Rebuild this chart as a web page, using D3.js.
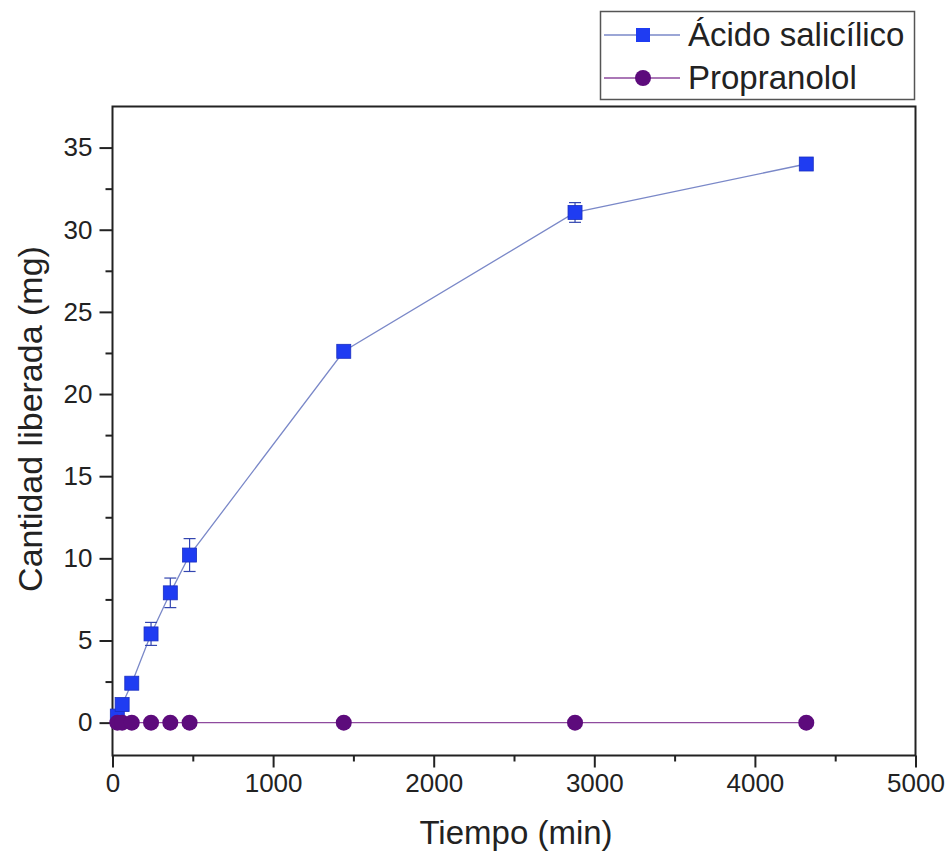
<!DOCTYPE html>
<html>
<head>
<meta charset="utf-8">
<script src="https://cdn.jsdelivr.net/npm/d3@7"></script>
<style>
  html, body { margin: 0; padding: 0; background: #fff; }
  svg { display: block; }
  text { font-family: "Liberation Sans", Arial, sans-serif; fill: #222; }
</style>
</head>
<body>
<script>
// Release data (time in minutes, amount released in mg)
const times = [30, 60, 120, 240, 360, 480, 1440, 2880, 4320];
const acidoValues = [0.4, 1.1, 2.4, 5.4, 7.9, 10.2, 22.6, 31.05, 34.0];
const acidoErrors = [0.15, 0.2, 0.2, 0.7, 0.9, 1.0, 0.35, 0.6, 0.2];
const propranololValues = [0, 0, 0, 0, 0, 0, 0, 0, 0];
const xTicks = [0, 1000, 2000, 3000, 4000, 5000];
const yTicks = [0, 5, 10, 15, 20, 25, 30, 35];
const seriesNames = ["Ácido salicílico", "Propranolol"];

const W = 952, H = 858;
const plot = { left: 112.5, right: 915.5, top: 106.5, bottom: 755.5 };

const svg = d3.select("body").append("svg").attr("width", W).attr("height", H);

const x = d3.scaleLinear().domain([0, 5000]).range([plot.left, plot.right]);
const y = d3.scaleLinear().domain([-2, 37.5]).range([plot.bottom, plot.top]);

const blue = "#1f3cf2", blueLine = "#7a88c8";
const purple = "#5d0b7c", purpleLine = "#8e4a9e";
const axisColor = "#222";

// Frame
svg.append("rect")
  .attr("x", plot.left).attr("y", plot.top)
  .attr("width", plot.right - plot.left).attr("height", plot.bottom - plot.top)
  .attr("fill", "none").attr("stroke", axisColor).attr("stroke-width", 2);

// X axis: major and minor ticks
const xMinor = svg.append("g").attr("transform", `translate(0,${plot.bottom})`)
  .call(d3.axisBottom(x).tickValues(d3.range(500, 5000, 1000)).tickSize(6).tickFormat(""));
xMinor.select(".domain").remove();
const xMajor = svg.append("g").attr("transform", `translate(0,${plot.bottom})`)
  .call(d3.axisBottom(x).tickValues(xTicks).tickSize(12).tickPadding(6).tickFormat(d3.format("d")));
xMajor.select(".domain").remove();
xMajor.selectAll("text").attr("font-size", 26).attr("fill", "#222")
  .attr("font-family", "Liberation Sans, Arial, sans-serif");

// Y axis: major and minor ticks
const yMinor = svg.append("g").attr("transform", `translate(${plot.left},0)`)
  .call(d3.axisLeft(y).tickValues(d3.range(2.5, 37.5, 5)).tickSize(7).tickFormat(""));
yMinor.select(".domain").remove();
const yMajor = svg.append("g").attr("transform", `translate(${plot.left},0)`)
  .call(d3.axisLeft(y).tickValues(yTicks).tickSize(13).tickPadding(7));
yMajor.select(".domain").remove();
yMajor.selectAll("text").attr("font-size", 26).attr("fill", "#222")
  .attr("font-family", "Liberation Sans, Arial, sans-serif");
svg.selectAll("g .tick line").attr("stroke", axisColor).attr("stroke-width", 2);

// Axis titles
svg.append("text")
  .attr("x", (plot.left + plot.right) / 2 + 2).attr("y", 844)
  .attr("text-anchor", "middle").attr("font-size", 33)
  .text("Tiempo (min)");
svg.append("text")
  .attr("transform", `translate(42,${(plot.top + plot.bottom) / 2 - 12}) rotate(-90)`)
  .attr("text-anchor", "middle").attr("font-size", 34)
  .text("Cantidad liberada (mg)");

// Ácido salicílico series
const acido = times.map((t, i) => ({ t, v: acidoValues[i], e: acidoErrors[i] }));
const propr = times.map((t, i) => ({ t, v: propranololValues[i] }));

const line = d3.line().x(d => x(d.t)).y(d => y(d.v));

svg.append("path").datum(acido)
  .attr("d", line).attr("fill", "none")
  .attr("stroke", blueLine).attr("stroke-width", 1.3);

const eb = svg.append("g").attr("stroke", "#3346b0").attr("stroke-width", 1.2);
acido.forEach(d => {
  eb.append("line").attr("x1", x(d.t)).attr("x2", x(d.t))
    .attr("y1", y(d.v - d.e)).attr("y2", y(d.v + d.e));
  [d.v - d.e, d.v + d.e].forEach(v => {
    eb.append("line").attr("x1", x(d.t) - 6).attr("x2", x(d.t) + 6)
      .attr("y1", y(v)).attr("y2", y(v));
  });
});

const sq = 14;
svg.append("g").selectAll("rect").data(acido).join("rect")
  .attr("x", d => x(d.t) - sq / 2).attr("y", d => y(d.v) - sq / 2)
  .attr("width", sq).attr("height", sq)
  .attr("fill", blue).attr("stroke", "#1a2fc0").attr("stroke-width", 0.8);

// Propranolol series
svg.append("path").datum(propr)
  .attr("d", line).attr("fill", "none")
  .attr("stroke", purpleLine).attr("stroke-width", 1.2);
svg.append("g").selectAll("circle").data(propr).join("circle")
  .attr("cx", d => x(d.t)).attr("cy", d => y(d.v)).attr("r", 8)
  .attr("fill", purple);

// Legend
const lg = svg.append("g");
lg.append("rect").attr("x", 600.5).attr("y", 11.5).attr("width", 314).attr("height", 88)
  .attr("fill", "#fff").attr("stroke", "#555").attr("stroke-width", 1.5);
const rows = [35, 78];
rows.forEach((ry, i) => {
  lg.append("line").attr("x1", 604).attr("x2", 680).attr("y1", ry).attr("y2", ry)
    .attr("stroke", i === 0 ? blueLine : purpleLine).attr("stroke-width", 1.3);
  if (i === 0) {
    lg.append("rect").attr("x", 643 - 7).attr("y", ry - 7).attr("width", 14).attr("height", 14)
      .attr("fill", blue);
  } else {
    lg.append("circle").attr("cx", 643).attr("cy", ry).attr("r", 8).attr("fill", purple);
  }
  lg.append("text").attr("x", 688).attr("y", ry + 11).attr("font-size", 33)
    .text(seriesNames[i]);
});
</script>
</body>
</html>
